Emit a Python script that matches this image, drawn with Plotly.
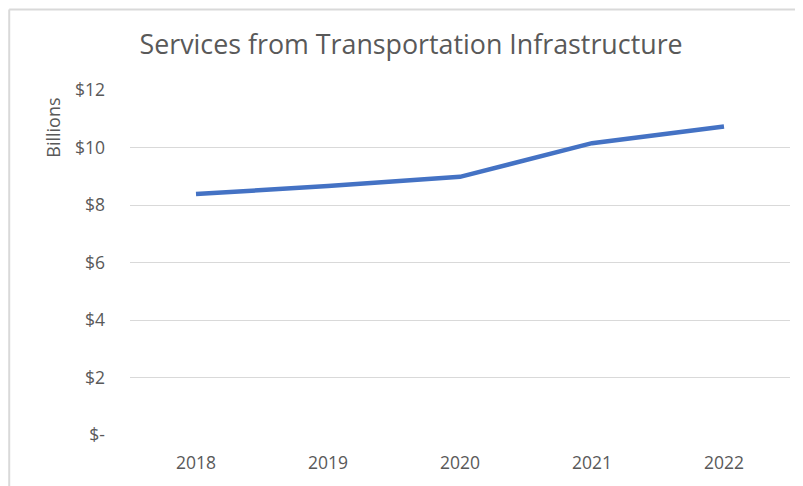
import plotly.graph_objects as go

years = ["2018", "2019", "2020", "2021", "2022"]
services = [8.38, 8.66, 8.98, 10.15, 10.73]

tick_vals = [0, 2, 4, 6, 8, 10, 12]
tick_text = ["$-", "$2", "$4", "$6", "$8", "$10", "$12"]

gray = "#595959"

fig = go.Figure()
fig.add_trace(go.Scatter(
    x=years, y=services, mode="lines",
    line=dict(color="#4472C4", width=4.5),
    hoverinfo="x+y",
))

# the page puts the figure 8px in from the top left corner
fig.update_layout(
    width=795, height=478,
    paper_bgcolor="white", plot_bgcolor="white",
    margin=dict(l=122, r=13, t=82, b=48),
    font=dict(family="Open Sans", color=gray, size=17),
    showlegend=False,
    title=dict(
        text="Services from Transportation Infrastructure",
        x=0.507, xanchor="center", y=0.923, yanchor="middle",
        font=dict(size=26.8, color=gray),
    ),
)
fig.update_xaxes(
    type="category", range=[-0.5, 4.5], showgrid=False, zeroline=False,
    showline=False, ticks="", ticklabelstandoff=15,
    tickfont=dict(size=17.5, color=gray),
)
fig.update_yaxes(
    range=[0, 12], tickvals=tick_vals, ticktext=tick_text,
    showgrid=True, gridcolor="#D9D9D9", gridwidth=1.3,
    zeroline=False, showline=False, ticks="",
    ticklabelstandoff=24, tickfont=dict(size=17.5, color=gray),
)
fig.add_annotation(
    text="Billions", xref="paper", yref="paper", x=-0.118, y=0.891,
    xanchor="center", yanchor="middle", textangle=-90, showarrow=False,
    font=dict(size=18, color=gray),
)
# chart border: only left and top edges are visible in the picture
fig.add_shape(
    type="line", xref="paper", yref="paper",
    x0=-0.183, x1=-0.183, y0=-0.2, y1=1.233,
    line=dict(color="#D9D9D9", width=2),
)
fig.add_shape(
    type="line", xref="paper", yref="paper",
    x0=-0.183, x1=1.05, y0=1.233, y1=1.233,
    line=dict(color="#D9D9D9", width=2),
)

fig.write_html("out.html")
